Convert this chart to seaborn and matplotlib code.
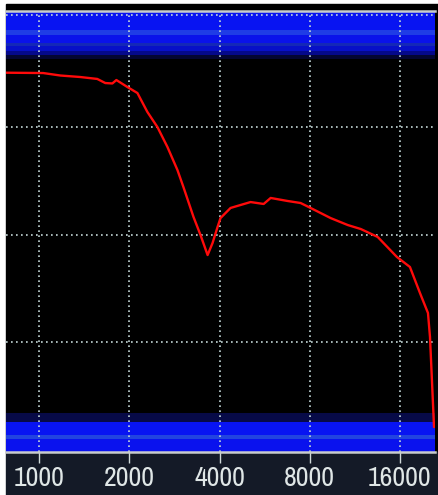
import matplotlib
matplotlib.use("Agg")
import matplotlib.pyplot as plt
import matplotlib.patches as mpatches
from matplotlib import font_manager
import numpy as np
import pandas as pd
import seaborn as sns

# ---- data ----
freq_hz = [775, 1031, 1176, 1371, 1563, 1662, 1755, 1810, 1970, 2128, 2297,
           2481, 2680, 2894, 3030, 3275, 3456, 3649, 3791, 3939, 4030, 4353,
           5077, 5614, 5925, 6742, 7456, 7934, 9392, 10719, 11844, 13491,
           15634, 17280, 18664, 19848, 20159, 20475, 20794]
level_db = [-4.95, -4.98, -5.21, -5.35, -5.53, -5.91, -5.95, -5.63, -6.28,
            -6.84, -8.60, -10.0, -11.86, -14.0, -15.58, -18.37, -20.05, -21.91,
            -20.79, -19.30, -18.47, -17.53, -16.98, -17.16, -16.60, -16.88,
            -17.07, -17.44, -18.47, -19.12, -19.49, -20.23, -22.09, -23.02,
            -25.44, -27.30, -29.53, -33.72, -37.91]
tick_freqs = [1000, 2000, 4000, 8000, 16000]
tick_labels = ["1000", "2000", "4000", "8000", "16000"]
grid_db = [0.4, -10, -20, -30]

df = pd.DataFrame({"freq": freq_hz, "level": level_db})

sns.set_style("dark")
names = sorted({f.name for f in font_manager.fontManager.ttflist})
narrow = [n for n in names if ("Narrow" in n or "Condensed" in n)]
label_family = narrow[0] if narrow else "Liberation Sans"
plt.rcParams["font.family"] = [label_family, "DejaVu Sans"]
label_size = 20 if narrow else 16

W, H = 438, 495
fig = plt.figure(figsize=(W / 100, H / 100), dpi=100, facecolor="white")

# background panels (black plot region, navy label strip)
fig.patches.append(mpatches.Rectangle((6 / W, 43 / H), 432 / W, (452 - 4) / H,
                                      transform=fig.transFigure, color="black", zorder=-10))
fig.patches.append(mpatches.Rectangle((6 / W, 0), 432 / W, 43 / H,
                                      transform=fig.transFigure, color="#141a27", zorder=-10))

ax = fig.add_axes([6 / W, 43 / H, 429 / W, 441 / H])
ax.set_zorder(5)
ax.set_facecolor("black")
ax.set_xscale("log")
ax.set_xlim(775, 20950)
ax.set_ylim(-40.23, 0.79)

def py2db(y):
    return -10 - (y - 127) / 10.75

# top blue band
top_band = [(12, 30, "#0814f2"), (30, 35, "#1f3ce6"), (35, 43, "#0a12ea"),
            (43, 46, "#1428b8"), (46, 51, "#0810c8"), (51, 55, "#05098a"),
            (55, 59, "#040632")]
for y0, y1, c in top_band:
    ax.axhspan(py2db(y1), py2db(y0), color=c, lw=0, zorder=0.5)
# bottom blue band
bot_band = [(413, 422, "#070a48"), (422, 435, "#0814f2"), (435, 439, "#2244e0"),
            (439, 452, "#0a12ee")]
for y0, y1, c in bot_band:
    ax.axhspan(py2db(y1), py2db(y0), color=c, lw=0, zorder=0.5)

# grid
grid_kw = dict(color="#c4d8d8", lw=1.2, ls=(0, (1, 2.0)), zorder=1)
for g in grid_db:
    ax.axhline(g, **grid_kw)
for f in tick_freqs:
    ax.axvline(f, **grid_kw)

sns.lineplot(data=df, x="freq", y="level", ax=ax, color="#ff0a0a", lw=1.7,
             zorder=3, estimator=None, sort=False)

ax.set_xticks(tick_freqs)
ax.set_xticklabels(tick_labels)
ax.minorticks_off()
ax.set_yticks([])
ax.set_xlabel("")
ax.set_ylabel("")
ax.tick_params(axis="x", colors="#cfd8d8", length=8, width=1.0, direction="out",
               labelsize=label_size, pad=2, bottom=True)
for lab in ax.get_xticklabels():
    lab.set_color("#dfe6e6")
for s in ["left", "right"]:
    ax.spines[s].set_visible(False)
for s in ["top", "bottom"]:
    ax.spines[s].set_visible(True)
    ax.spines[s].set_color("#c8cccc")
    ax.spines[s].set_linewidth(1.8)
ax.grid(False)

fig.savefig("out.png", dpi=100, facecolor="white")
